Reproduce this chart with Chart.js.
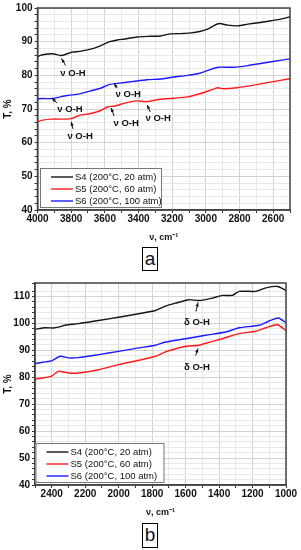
<!DOCTYPE html>
<html>
<head>
<meta charset="utf-8">
<script src="https://cdn.jsdelivr.net/npm/chart.js@4.4.0/dist/chart.umd.min.js"></script>
<style>
body { margin: 0; background: #fff; width: 301px; height: 550px; position: relative; overflow: hidden; font-family: "Liberation Sans", Arial, sans-serif; }
.wrap { position: absolute; left: 0; width: 301px; height: 245px; }
.tag { position: absolute; border: 1px solid #000; font-size: 19px; line-height: 22px; text-align: center; color: #111; }
</style>
</head>
<body>
<div class="wrap" style="top:0"><canvas id="chartA"></canvas></div>
<div class="tag" style="left:142px;top:247px;width:14px;height:22px">a</div>
<div class="wrap" style="top:275px"><canvas id="chartB"></canvas></div>
<div class="tag" style="left:142px;top:523px;width:14px;height:23px">b</div>
<script>
// labels
const seriesNames = ['S4 (200°C, 20 atm)', 'S5 (200°C, 60 atm)', 'S6 (200°C, 100 atm)'];

// (a) 4000-2500 cm-1
const aS4x = [4000, 3970, 3910, 3855, 3795, 3750, 3690, 3630, 3570, 3525, 3480, 3410, 3330, 3270, 3210, 3150, 3090, 3030, 2990, 2955, 2920, 2870, 2810, 2750, 2675, 2615, 2555, 2500];
const aS4y = [85.6, 86.1, 86.4, 85.9, 86.9, 87.1, 87.7, 88.7, 90.0, 90.5, 90.8, 91.4, 91.6, 91.7, 92.3, 92.4, 92.6, 93.1, 93.7, 94.7, 95.4, 94.9, 94.7, 95.2, 95.7, 96.2, 96.7, 97.4];
const aS5x = [4000, 3970, 3910, 3825, 3795, 3750, 3690, 3630, 3585, 3540, 3470, 3410, 3350, 3270, 3190, 3110, 3030, 2975, 2930, 2895, 2815, 2715, 2615, 2500];
const aS5y = [66.2, 66.7, 67.0, 67.0, 67.2, 68.1, 68.6, 69.4, 70.6, 70.9, 71.9, 72.4, 72.2, 72.9, 73.2, 73.6, 74.6, 75.5, 76.3, 76.0, 76.3, 77.1, 78.0, 79.0];
const aS6x = [4000, 3970, 3910, 3865, 3825, 3750, 3690, 3630, 3570, 3510, 3430, 3350, 3270, 3190, 3110, 3030, 2975, 2925, 2835, 2750, 2675, 2600, 2500];
const aS6y = [73.0, 73.1, 73.1, 73.6, 74.0, 74.5, 75.3, 76.1, 77.3, 77.7, 78.2, 78.7, 78.9, 79.5, 80.0, 80.7, 81.7, 82.4, 82.4, 82.9, 83.5, 84.1, 84.9];

// (b) 2500-1000 cm-1
const bS4x = [2500, 2440, 2390, 2360, 2320, 2240, 2120, 2000, 1880, 1780, 1720, 1660, 1580, 1520, 1440, 1380, 1320, 1280, 1180, 1120, 1050, 1000];
const bS4y = [97.8, 98.4, 98.3, 98.6, 99.3, 99.9, 101.1, 102.3, 103.6, 104.8, 106.4, 107.5, 108.8, 108.5, 109.4, 110.4, 110.4, 111.9, 111.9, 113.2, 113.7, 112.3];
const bS5x = [2500, 2440, 2400, 2360, 2300, 2240, 2120, 2000, 1880, 1780, 1720, 1600, 1520, 1440, 1380, 1280, 1180, 1120, 1050, 1000];
const bS5y = [79.3, 79.9, 80.4, 82.2, 81.6, 81.6, 82.8, 84.7, 86.3, 87.8, 89.4, 91.5, 91.9, 93.3, 94.3, 96.2, 97.1, 98.4, 99.5, 97.3];
const bS6x = [2500, 2440, 2400, 2350, 2300, 2240, 2120, 2000, 1880, 1780, 1720, 1600, 1480, 1360, 1280, 1160, 1100, 1045, 1000];
const bS6y = [85.1, 85.7, 86.1, 87.8, 87.2, 87.3, 88.4, 89.6, 90.9, 91.9, 93.1, 94.3, 95.6, 96.8, 98.4, 99.3, 100.9, 102.0, 100.2];

// band labels: text, label centre, arrow tail, arrow head (data units)
const aNotes = [
  ['ν O-H', 3789, 80.6, 3833, 82.9, 3857, 85.0],
  ['ν O-H', 3807, 70.0, 3884, 71.8, 3914, 73.2],
  ['ν O-H', 3461, 74.4, 3527, 76.2, 3545, 77.6],
  ['ν O-H', 3473, 65.6, 3545, 67.9, 3562, 70.3],
  ['ν O-H', 3283, 67.1, 3330, 69.1, 3348, 71.2],
  ['ν O-H', 3747, 61.8, 3789, 64.1, 3800, 66.2]
];
const bNotes = [
  ['δ O-H', 1532, 100.4, 1538, 104.4, 1526, 107.8],
  ['δ O-H', 1532, 83.7, 1540, 88.1, 1526, 90.7]
];

const colors = ['#151515', '#ff1a1a', '#1a1aff'];
const FONT = '"Liberation Sans", Arial, sans-serif';
Chart.defaults.font.family = FONT;
Chart.defaults.color = '#111';

function pts(xs, ys) { return xs.map((x, i) => ({ x: x, y: ys[i] })); }

function makeSets(list) {
  return list.map((s, i) => ({
    label: seriesNames[i], data: pts(s[0], s[1]), borderColor: colors[i],
    borderWidth: 1.4, pointRadius: 0, tension: 0.2, fill: false
  }));
}

const extras = {
  id: 'extras',
  afterDraw(chart, args, opts) {
    const ctx = chart.ctx, a = chart.chartArea;
    const xs = chart.scales.x, ys = chart.scales.y;
    ctx.save();
    // frame
    ctx.strokeStyle = '#444';
    ctx.lineWidth = 1.5;
    ctx.strokeRect(a.left, a.top, a.right - a.left, a.bottom - a.top);
    // notes with arrows
    ctx.fillStyle = '#111';
    ctx.strokeStyle = '#111';
    ctx.lineWidth = 1;
    ctx.font = 'bold 9.5px ' + FONT;
    ctx.textAlign = 'center';
    ctx.textBaseline = 'middle';
    opts.notes.forEach(n => {
      ctx.fillText(n[0], xs.getPixelForValue(n[1]), ys.getPixelForValue(n[2]));
      const x1 = xs.getPixelForValue(n[3]), y1 = ys.getPixelForValue(n[4]);
      const x2 = xs.getPixelForValue(n[5]), y2 = ys.getPixelForValue(n[6]);
      const ang = Math.atan2(y2 - y1, x2 - x1);
      ctx.beginPath(); ctx.moveTo(x1, y1); ctx.lineTo(x2, y2); ctx.stroke();
      ctx.beginPath();
      ctx.moveTo(x2, y2);
      ctx.lineTo(x2 - 4 * Math.cos(ang) + 1.6 * Math.sin(ang), y2 - 4 * Math.sin(ang) - 1.6 * Math.cos(ang));
      ctx.lineTo(x2 - 4 * Math.cos(ang) - 1.6 * Math.sin(ang), y2 - 4 * Math.sin(ang) + 1.6 * Math.cos(ang));
      ctx.closePath(); ctx.fill();
    });
    // legend box inside plot
    const bx = a.left + opts.legendDx, bw = opts.legendW, bh = 39, by = a.bottom - 3 - bh;
    ctx.fillStyle = '#fff';
    ctx.fillRect(bx, by, bw, bh);
    ctx.strokeStyle = '#777';
    ctx.lineWidth = 1;
    ctx.strokeRect(bx + 0.5, by + 0.5, bw, bh);
    ctx.font = '9.5px ' + FONT;
    ctx.textAlign = 'left';
    chart.data.datasets.forEach((d, i) => {
      const yy = by + 9 + i * 12;
      ctx.strokeStyle = d.borderColor;
      ctx.lineWidth = 1.4;
      ctx.beginPath(); ctx.moveTo(bx + 11, yy); ctx.lineTo(bx + 33, yy); ctx.stroke();
      ctx.fillStyle = '#111';
      ctx.fillText(d.label, bx + 35, yy + 0.5);
    });
    ctx.restore();
  }
};

function makeChart(id, sets, xMin, xMax, yMin, yMax, yAxisW, pad, notes, legendDx, legendW) {
  return new Chart(document.getElementById(id), {
    type: 'line',
    data: { datasets: makeSets(sets) },
    options: {
      responsive: true, maintainAspectRatio: false, animation: false,
      layout: { padding: pad },
      plugins: {
        legend: { display: false }, tooltip: { enabled: false },
        extras: { notes: notes, legendDx: legendDx, legendW: legendW }
      },
      scales: {
        x: {
          type: 'linear', reverse: true, min: xMin, max: xMax,
          afterFit: s => { s.height = 35; },
          ticks: { stepSize: 100, autoSkip: false, maxRotation: 0, padding: 0,
            font: { size: 10, weight: 'bold' },
            callback: v => (v % 200 === 0 ? v : '') },
          grid: { color: c => (c.tick && c.tick.value % 200 === 0 ? '#d2d2d2' : '#e8e8e8'),
            tickColor: '#333', tickLength: 3 },
          border: { color: '#444', width: 1.5 },
          title: { display: true, text: 'ν, cm⁻¹', font: { size: 9, weight: 'bold' }, padding: { top: 0, bottom: 2 } }
        },
        y: {
          min: yMin, max: yMax,
          afterFit: s => { s.width = yAxisW; },
          ticks: { stepSize: 2, autoSkip: false, padding: 2,
            font: { size: 10, weight: 'bold' },
            callback: v => (v % 10 === 0 ? v : '') },
          grid: { color: c => (c.tick && c.tick.value % 10 === 0 ? '#d2d2d2' : '#e8e8e8'),
            tickColor: '#333', tickLength: 3 },
          border: { color: '#444', width: 1.5 },
          title: { display: true, text: 'T, %', font: { size: 10, weight: 'bold' }, padding: { top: 2, bottom: 0 } }
        }
      }
    },
    plugins: [extras]
  });
}

makeChart('chartA', [[aS4x, aS4y], [aS5x, aS5y], [aS6x, aS6y]], 2500, 4000, 40, 100, 37.5,
  { top: 6, right: 11, left: 0, bottom: 0 }, aNotes, 2.5, 121);
makeChart('chartB', [[bS4x, bS4y], [bS5x, bS5y], [bS6x, bS6y]], 1000, 2500, 40, 115, 35,
  { top: 8, right: 15, left: 0, bottom: 0 }, bNotes, 0.5, 128);
</script>
</body>
</html>
